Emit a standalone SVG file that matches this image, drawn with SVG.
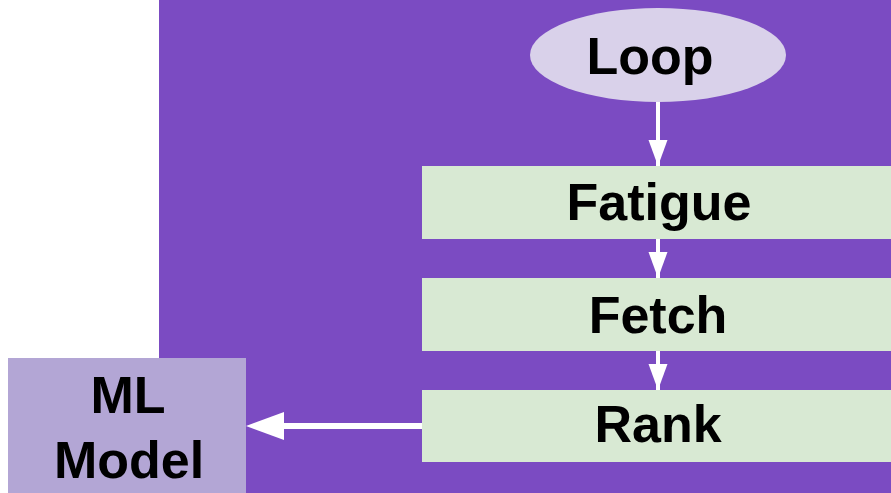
<svg xmlns="http://www.w3.org/2000/svg" width="891" height="493" viewBox="0 0 891 493">
<defs>
<style>
.t{font-family:"Liberation Sans",Arial,sans-serif;font-weight:bold;font-size:52px;fill:#000;text-anchor:middle}
.step{fill:#d8e9d3}
.c{stroke:#fff;stroke-width:4;fill:none}
</style>
<marker id="ah" viewBox="0 0 26 20" refX="26" refY="10" markerWidth="26" markerHeight="20" markerUnits="userSpaceOnUse" orient="auto">
<path d="M0,0.5 L26,10 L0,19.5 Z" fill="#fff"/>
</marker>
</defs>
<rect x="0" y="0" width="891" height="493" fill="#fff"/>
<rect x="159" y="0" width="732" height="493" fill="#7b4bc2"/>
<g id="loop">
<ellipse cx="658" cy="55" rx="128" ry="47" fill="#d9d1ea"/>
<text class="t" x="650" y="74">Loop</text>
</g>
<g id="fatigue">
<rect class="step" x="422" y="166" width="469" height="73"/>
<text class="t" x="659" y="220">Fatigue</text>
</g>
<g id="fetch">
<rect class="step" x="422" y="278" width="469" height="73"/>
<text class="t" x="658" y="333">Fetch</text>
</g>
<g id="rank">
<rect class="step" x="422" y="390" width="469" height="72"/>
<text class="t" x="658" y="442">Rank</text>
</g>
<g id="mlmodel">
<rect x="8" y="358" width="238" height="135" fill="#b3a6d5"/>
<text class="t" x="128" y="413">ML</text>
<text class="t" x="129" y="478">Model</text>
</g>
<g id="connectors">
<line class="c" x1="658" y1="102" x2="658" y2="166" marker-end="url(#ah)"/>
<line class="c" x1="658" y1="239" x2="658" y2="278" marker-end="url(#ah)"/>
<line class="c" x1="658" y1="351" x2="658" y2="390" marker-end="url(#ah)"/>
<line x1="422" y1="426" x2="280" y2="426" stroke="#fff" stroke-width="6"/>
<path d="M246,426 L284,412 L284,440 Z" fill="#fff"/>
</g>
</svg>
